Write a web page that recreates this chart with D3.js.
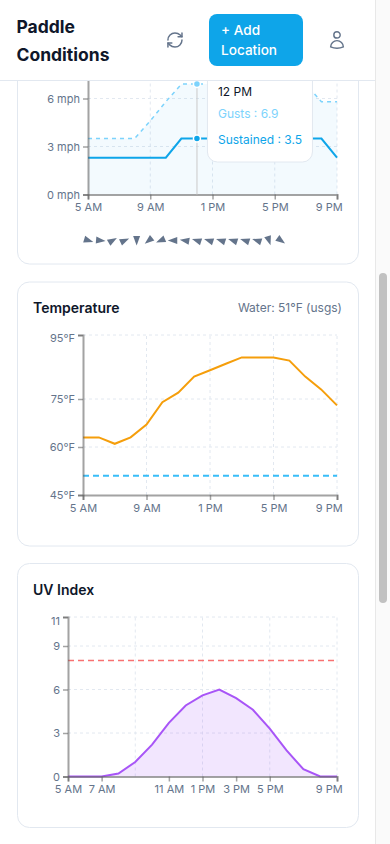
<!DOCTYPE html>
<html>
<head>
<meta charset="utf-8">
<script src="https://cdnjs.cloudflare.com/ajax/libs/d3/7.8.5/d3.min.js"></script>
<style>
html, body { margin: 0; padding: 0; background: #fff; overflow: hidden; }
svg { display: block; font-family: Inter, "Noto Sans", sans-serif; }
</style>
</head>
<body>
<svg width="390" height="844"></svg>
<script>
// hours of the day, 5 AM to 9 PM
let hours = [5, 6, 7, 8, 9, 10, 11, 12, 13, 14, 15, 16, 17, 18, 19, 20, 21];

let gusts =     [3.5, 3.5, 3.5, 3.5, 4.6, 5.8, 6.9, 6.9, 6.9, 6.9, 6.9, 6.9, 6.9, 6.9, 6.9, 5.8, 5.8];
let sustained = [2.3, 2.3, 2.3, 2.3, 2.3, 2.3, 3.5, 3.5, 3.5, 3.5, 3.5, 3.5, 3.5, 3.5, 3.5, 3.5, 2.3];
let windDirs =  [107, 95, 60, 65, 180, 231, 247, 270, 280, 288, 288, 288, 288, 288, 288, 162, 126];

let airTemp = [63, 63, 61, 63, 67, 74, 77, 82, 84, 86, 88, 88, 88, 87, 82, 78, 73];
let waterTemp = 51;

let uvIndex = [0, 0, 0, 0.2, 1, 2.2, 3.7, 4.9, 5.6, 6, 5.4, 4.6, 3.3, 1.8, 0.5, 0, 0];
let uvLimit = 8;

let windYTicks = [0, 3, 6];
let tempYTicks = [45, 60, 75, 95];
let uvYTicks = [0, 3, 6, 9, 11];
let fourHourTicks = [5, 9, 13, 17, 21];
let uvXTicks = [5, 7, 11, 13, 15, 17, 21];

let svg = d3.select("svg");

function hourLabel(h) {
    let suffix = h < 12 ? " AM" : " PM";
    return (h % 12 || 12) + suffix;
}

// cards go first so everything else sits on top
function card(y, h) {
    svg.append("rect")
        .attr("x", 17.5).attr("y", y)
        .attr("width", 341).attr("height", h)
        .attr("rx", 12)
        .attr("fill", "#fff")
        .attr("stroke", "#e2e8f0");
}

function cardTitle(text, y) {
    svg.append("text")
        .attr("x", 33).attr("y", y)
        .attr("font-size", 14).attr("font-weight", 600)
        .attr("fill", "#0f172a")
        .text(text);
}

function grid(g, x, y, xGrid, yGrid) {
    g.append("g").selectAll("line").data(xGrid).enter().append("line")
        .attr("x1", x).attr("x2", x)
        .attr("y1", y.range()[0]).attr("y2", y.range()[1])
        .attr("stroke", "#e2e8f0").attr("stroke-dasharray", "3 3");
    g.append("g").selectAll("line").data(yGrid).enter().append("line")
        .attr("x1", x.range()[0]).attr("x2", x.range()[1])
        .attr("y1", y).attr("y2", y)
        .attr("stroke", "#e2e8f0").attr("stroke-dasharray", "3 3");
}

function axes(g, x, y, xTicks, yTicks, yFormat, topShift) {
    let bottom = g.append("g")
        .attr("transform", "translate(0," + y.range()[0] + ")")
        .call(d3.axisBottom(x).tickValues(xTicks).tickFormat(hourLabel).tickSize(5).tickPadding(4));
    let left = g.append("g")
        .attr("transform", "translate(" + x.range()[0] + ",0)")
        .call(d3.axisLeft(y).tickValues(yTicks).tickFormat(yFormat).tickSize(5).tickPadding(3));
    [bottom, left].forEach(function(a) {
        a.selectAll("path").attr("stroke", "#666").attr("stroke-opacity", 0.6).attr("stroke-width", 2);
        a.selectAll("line").attr("stroke", "#666").attr("stroke-opacity", 0.6).attr("stroke-width", 1.5);
        a.selectAll("text").attr("fill", "#64748b").attr("font-size", 11).attr("font-family", "Inter");
    });
    // the last x label is pulled in so it stays inside the card, the top y label is pushed down
    bottom.selectAll("text").filter(function(d) { return d == xTicks[xTicks.length - 1]; })
        .attr("dx", -8.3);
    left.selectAll("text").filter(function(d) { return d == yTicks[yTicks.length - 1]; })
        .attr("y", topShift);
}

card(-40, 304);
card(282, 264);
card(563.5, 264);

/** Wind **/
let windX = d3.scaleLinear().domain([5, 21]).range([88, 337]);
let windY = d3.scaleLinear().domain([0, 9]).range([194.5, 50.5]);
let windG = svg.append("g");

grid(windG, windX, windY, fourHourTicks.slice(1), windYTicks.slice(1));

windG.append("path")
    .attr("d", d3.area().x(function(d, i) { return windX(hours[i]); }).y0(windY(0)).y1(windY)(gusts))
    .attr("fill", "#0ea5e9").attr("fill-opacity", 0.05);

let windLine = d3.line().x(function(d, i) { return windX(hours[i]); }).y(windY);
windG.append("path")
    .attr("d", windLine(gusts))
    .attr("fill", "none").attr("stroke", "#7dd3fc")
    .attr("stroke-width", 1.5).attr("stroke-dasharray", "4 4");
windG.append("path")
    .attr("d", windLine(sustained))
    .attr("fill", "none").attr("stroke", "#0ea5e9").attr("stroke-width", 2);

axes(windG, windX, windY, fourHourTicks, windYTicks, function(d) { return d + " mph"; }, 0);

// hover state at 12 PM
let hoverHour = 12;
let hoverIdx = hours.indexOf(hoverHour);
windG.append("line")
    .attr("x1", windX(hoverHour)).attr("x2", windX(hoverHour))
    .attr("y1", windY(0)).attr("y2", windY(gusts[hoverIdx]))
    .attr("stroke", "#ccc").attr("stroke-opacity", 0.7).attr("stroke-width", 1.5);
[[gusts, "#7dd3fc"], [sustained, "#0ea5e9"]].forEach(function(s) {
    windG.append("circle")
        .attr("cx", windX(hoverHour)).attr("cy", windY(s[0][hoverIdx]))
        .attr("r", 3.5).attr("fill", s[1])
        .attr("stroke", "#fff").attr("stroke-width", 1.5);
});

let tipX = windX(hoverHour) + 10.5;
windG.append("rect")
    .attr("x", tipX).attr("y", 60)
    .attr("width", 105).attr("height", 102)
    .attr("rx", 10)
    .attr("fill", "#fff").attr("stroke", "#e2e8f0");
let tipRows = [
    [hourLabel(hoverHour), "#0f172a", 96],
    ["Gusts : " + gusts[hoverIdx], "#7dd3fc", 118],
    ["Sustained : " + sustained[hoverIdx], "#0ea5e9", 144]
];
windG.selectAll(".tip").data(tipRows).enter().append("text")
    .attr("class", "tip")
    .attr("x", tipX + 10.5)
    .attr("y", function(d) { return d[2]; })
    .attr("font-size", 12)
    .attr("fill", function(d) { return d[1]; })
    .text(function(d) { return d[0]; });

// little wind direction arrows under the chart
let arrowX = d3.scaleLinear().domain([0, windDirs.length - 1]).range([88.5, 281]);
svg.append("g").selectAll("path").data(windDirs).enter().append("path")
    .attr("d", "M0,-5L3.5,4.5L-3.5,4.5Z")
    .attr("fill", "#64748b")
    .attr("transform", function(d, i) { return "translate(" + arrowX(i) + ",240.5) rotate(" + d + ")"; });

/** Temperature **/
cardTitle("Temperature", 313);
svg.append("text")
    .attr("x", 342).attr("y", 312)
    .attr("text-anchor", "end")
    .attr("font-size", 12).attr("fill", "#64748b")
    .text("Water: " + waterTemp + "°F (usgs)");

let tempX = d3.scaleLinear().domain([5, 21]).range([83, 337]);
let tempY = d3.scaleLinear().domain([45, 95]).range([495, 335]);
let tempG = svg.append("g");

grid(tempG, tempX, tempY, fourHourTicks.slice(1), tempYTicks.slice(1));

tempG.append("path")
    .attr("d", d3.line().x(function(d, i) { return tempX(hours[i]); }).y(tempY)(airTemp))
    .attr("fill", "none").attr("stroke", "#f59e0b").attr("stroke-width", 2);
tempG.append("line")
    .attr("x1", tempX(5)).attr("x2", tempX(21))
    .attr("y1", tempY(waterTemp)).attr("y2", tempY(waterTemp))
    .attr("stroke", "#38bdf8").attr("stroke-width", 2).attr("stroke-dasharray", "6 4");

axes(tempG, tempX, tempY, fourHourTicks, tempYTicks, function(d) { return d + "°F"; }, 3);

/** UV **/
cardTitle("UV Index", 595);

let uvX = d3.scaleLinear().domain([5, 21]).range([68, 337]);
let uvY = d3.scaleLinear().domain([0, 11]).range([776.5, 617]);
let uvG = svg.append("g");

grid(uvG, uvX, uvY, fourHourTicks.slice(1), uvYTicks.slice(1));

uvG.append("path")
    .attr("d", d3.area().x(function(d, i) { return uvX(hours[i]); }).y0(uvY(0)).y1(uvY)(uvIndex))
    .attr("fill", "#a855f7").attr("fill-opacity", 0.15);
uvG.append("path")
    .attr("d", d3.line().x(function(d, i) { return uvX(hours[i]); }).y(uvY)(uvIndex))
    .attr("fill", "none").attr("stroke", "#a855f7").attr("stroke-width", 2);
uvG.append("line")
    .attr("x1", uvX(5)).attr("x2", uvX(21))
    .attr("y1", uvY(uvLimit)).attr("y2", uvY(uvLimit))
    .attr("stroke", "#f87171").attr("stroke-width", 1.5).attr("stroke-dasharray", "6 4");

axes(uvG, uvX, uvY, uvXTicks, uvYTicks, function(d) { return d; }, 3.5);

/** Header, over the top of the wind chart **/
svg.append("rect").attr("width", 375).attr("height", 80).attr("fill", "#fff");
svg.append("line")
    .attr("x1", 0).attr("x2", 375).attr("y1", 80.5).attr("y2", 80.5)
    .attr("stroke", "#e2e8f0");

svg.selectAll(".brand").data(["Paddle", "Conditions"]).enter().append("text")
    .attr("class", "brand")
    .attr("x", 16.5)
    .attr("y", function(d, i) { return 33 + i * 28; })
    .attr("font-size", 17.5).attr("font-weight", 700)
    .attr("fill", "#0f172a")
    .text(function(d) { return d; });

svg.append("rect")
    .attr("x", 209).attr("y", 14)
    .attr("width", 94).attr("height", 52)
    .attr("rx", 8).attr("fill", "#0ea5e9");
svg.selectAll(".btn").data(["+ Add", "Location"]).enter().append("text")
    .attr("class", "btn")
    .attr("x", 221)
    .attr("y", function(d, i) { return 35 + i * 20; })
    .attr("font-size", 13.6).attr("font-weight", 500)
    .attr("fill", "#fff")
    .text(function(d) { return d; });

// refresh icon
let refresh = svg.append("g")
    .attr("transform", "translate(165.6,30.6) scale(0.78)")
    .attr("fill", "none").attr("stroke", "#64748b")
    .attr("stroke-width", 1.9).attr("stroke-linecap", "round").attr("stroke-linejoin", "round");
["M3 12a9 9 0 0 1 9-9 9.75 9.75 0 0 1 6.74 2.74L21 8", "M21 3v5h-5",
 "M21 12a9 9 0 0 1-9 9 9.75 9.75 0 0 1-6.74-2.74L3 16", "M8 16H3v5"].forEach(function(d) {
    refresh.append("path").attr("d", d);
});

// user icon
svg.append("path")
    .attr("transform", "translate(326.8,29.8) scale(0.85)")
    .attr("d", "M15.75 6a3.75 3.75 0 1 1-7.5 0 3.75 3.75 0 0 1 7.5 0ZM4.501 20.118a7.5 7.5 0 0 1 14.998 0A17.933 17.933 0 0 1 12 21.75c-2.676 0-5.216-.584-7.499-1.632Z")
    .attr("fill", "none").attr("stroke", "#64748b").attr("stroke-width", 1.7);

/** Page scrollbar **/
svg.append("rect")
    .attr("x", 375.5).attr("y", -1)
    .attr("width", 15).attr("height", 846)
    .attr("fill", "#fafafa").attr("stroke", "#e8e8e8");
svg.append("rect")
    .attr("x", 379).attr("y", 273)
    .attr("width", 8).attr("height", 330)
    .attr("rx", 4).attr("fill", "#c1c1c1");
</script>
</body>
</html>
